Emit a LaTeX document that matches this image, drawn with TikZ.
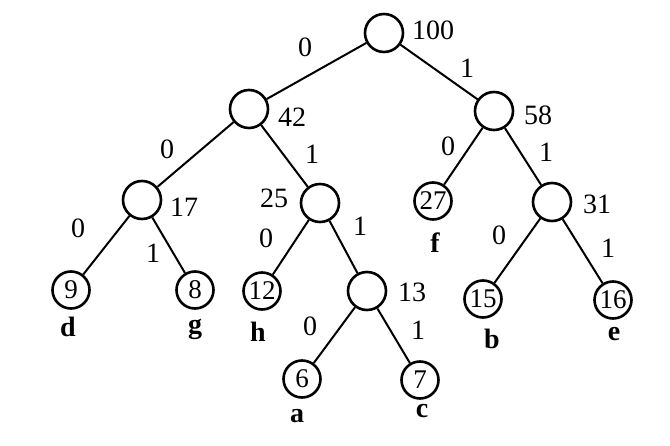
\documentclass[tikz,border=0pt]{standalone}
\usepackage{fontspec}
\setmainfont{Liberation Serif}
\begin{document}
\begin{tikzpicture}[x=1pt,y=-1pt,
  inode/.style={circle,draw,line width=2.6pt,minimum size=38pt,inner sep=0pt},
  leaf/.style={circle,draw,line width=2.6pt,minimum size=37pt,inner sep=0pt,font=\fontsize{27}{27}\selectfont},
  edge/.style={line width=2pt},
  lbl/.style={font=\fontsize{28}{28}\selectfont,inner sep=0pt},
  sym/.style={font=\fontsize{28}{28}\selectfont\bfseries,inner sep=0pt}]
\useasboundingbox (0,0) rectangle (670,446);
% internal nodes
\node[inode] (n100) at (384,33) {};
\node[inode] (n42) at (249,109) {};
\node[inode] (n58) at (494,111) {};
\node[inode] (n17) at (142,200) {};
\node[inode] (n25) at (320,203) {};
\node[inode] (n31) at (552,202) {};
\node[inode] (n13) at (367,291) {};
% leaves
\node[leaf] (l27) at (433,201) {27};
\node[leaf] (l9) at (71,290) {9};
\node[leaf] (l8) at (195,290) {8};
\node[leaf] (l12) at (262,291) {12};
\node[leaf] (l15) at (483,299) {15};
\node[leaf] (l16) at (613,300) {16};
\node[leaf] (l6) at (302,379) {6};
\node[leaf] (l7) at (420,380) {7};
% edges
\draw[edge] (n100) -- (n42);
\draw[edge] (n100) -- (n58);
\draw[edge] (n42) -- (n17);
\draw[edge] (n42) -- (n25);
\draw[edge] (n58) -- (l27);
\draw[edge] (n58) -- (n31);
\draw[edge] (n17) -- (l9);
\draw[edge] (n17) -- (l8);
\draw[edge] (n25) -- (l12);
\draw[edge] (n25) -- (n13);
\draw[edge] (n31) -- (l15);
\draw[edge] (n31) -- (l16);
\draw[edge] (n13) -- (l6);
\draw[edge] (n13) -- (l7);
% weights
\node[lbl] (w100) at (433,30) {100};
\node[lbl] (w42) at (292,117) {42};
\node[lbl] (w58) at (538,115) {58};
\node[lbl] (w17) at (184,207) {17};
\node[lbl] (w25) at (274,198) {25};
\node[lbl] (w31) at (597,204) {31};
\node[lbl] (w13) at (412,292) {13};
% edge bits
\node[lbl] (b1) at (305,47) {0};
\node[lbl] (b2) at (467,68) {1};
\node[lbl] (b3) at (167,149) {0};
\node[lbl] (b4) at (312,154) {1};
\node[lbl] (b5) at (448,146) {0};
\node[lbl] (b6) at (546,152) {1};
\node[lbl] (b7) at (78,228) {0};
\node[lbl] (b8) at (153,253) {1};
\node[lbl] (b9) at (266,238) {0};
\node[lbl] (b10) at (360,226) {1};
\node[lbl] (b11) at (499,235) {0};
\node[lbl] (b12) at (608,248) {1};
\node[lbl] (b13) at (310,326) {0};
\node[lbl] (b14) at (418,330) {1};
% symbols
\node[sym] (sf) at (435,243) {f};
\node[sym] (sd) at (68,327) {d};
\node[sym] (sg) at (195,329) {g};
\node[sym] (sh) at (258,332) {h};
\node[sym] (sb) at (492,339) {b};
\node[sym] (se) at (614,334) {e};
\node[sym] (sa) at (297,416) {a};
\node[sym] (sc) at (422,411) {c};
\end{tikzpicture}
\end{document}
